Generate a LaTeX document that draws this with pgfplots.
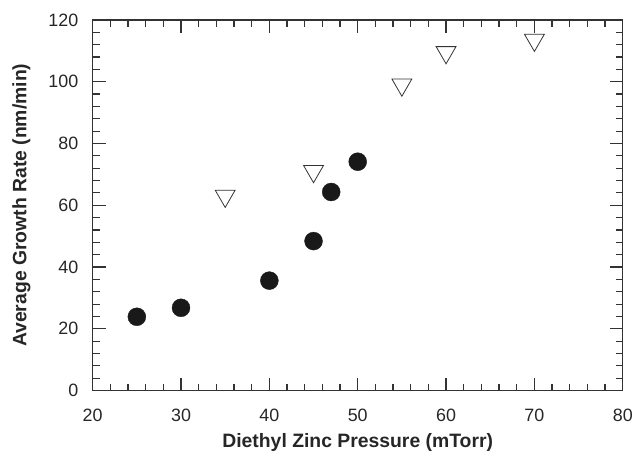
\documentclass[border=0pt]{standalone}
\usepackage{pgfplots}
\pgfplotsset{compat=1.18}
\usepackage{fontspec}
\setmainfont{Liberation Sans}
\begin{document}
\begin{tikzpicture}
  \begin{axis}[
      scale only axis,
      width=532bp, height=372bp,
      xmin=20, xmax=80, ymin=0, ymax=120,
      xtick={20,30,...,80}, ytick={0,20,...,120},
      minor x tick num=4, minor y tick num=4,
      tick align=inside,
      major tick length=13bp, minor tick length=7bp,
      axis line style={line width=1.2pt, black!80},
      tick style={line width=1.2pt, black!80},
      /pgf/number format/assume math mode=true,
      tick label style={font=\fontsize{18}{20}\selectfont, text=black!85},
      label style={font=\bfseries\fontsize{19.5}{22}\selectfont, text=black!85},
      xticklabel style={yshift=-15bp},
      yticklabel style={xshift=-11bp},
      xlabel={Diethyl Zinc Pressure (mTorr)},
      ylabel={Average Growth Rate (nm/min)},
      xlabel style={at={(axis description cs:0.5,0)}, anchor=base, inner sep=0pt, yshift=-57bp},
      ylabel style={at={(axis description cs:0,0.5)}, anchor=south, yshift=59bp},
      clip=false,
    ]
    \path (rel axis cs:0,0) ++(-93bp,-66bp) (rel axis cs:1,1) ++(11bp,20bp);
    \addplot[only marks, mark=*, mark size=9bp, black!90, mark options={fill=black!90}]
      coordinates {(25,23.9) (30,26.8) (40,35.6) (45,48.4) (47,64.3) (50,74.1)};
    \addplot[only marks, mark=triangle, mark size=11.5bp, black!80, mark options={rotate=180, fill=white, line width=0.8pt}]
      coordinates {(35,63) (45,71) (55,99) (60,109.5) (70,113.5)};
  \end{axis}
\end{tikzpicture}
\end{document}
